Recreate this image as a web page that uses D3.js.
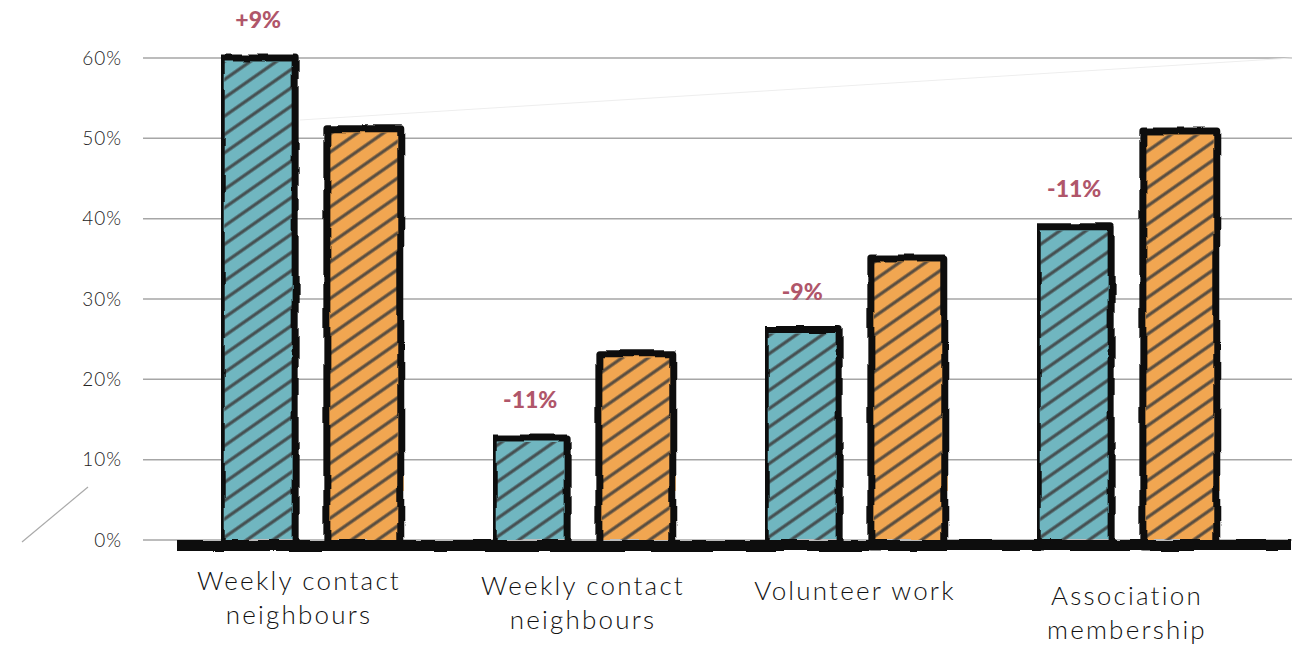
<!doctype html>
<html>
  <head>
    <meta charset="utf-8">
    <script src="https://d3js.org/d3.v7.min.js"></script>
    <style>
      body { margin: 0; background: #fff; }
      text { font-family: "Lato", "Open Sans", sans-serif; }
    </style>
  </head>

  <body onload='init()'>
    <svg class="chart" width=1292 height=652></svg>

    <script>
      // chart data
      var categories = ["Weekly contact neighbours", "Weekly contact neighbours", "Volunteer work", "Association membership"];
      var seriesNames = ["before", "after"];
      var seriesBefore = [60, 12.7, 26.2, 39.0];
      var seriesAfter = [51.2, 23.2, 35.1, 50.9];
      var changeLabels = ["+9%", "-11%", "-9%", "-11%"];
      var yTicks = [0, 10, 20, 30, 40, 50, 60];

      function init() {
        var svg = d3.select("svg"),
          width = +svg.attr("width");

        var colors = { before: "#6fb6c0", after: "#f1a651" };

        var defs = svg.append("defs");

        // hatch pattern
        var pat = defs.append("pattern")
          .attr("id", "hatch")
          .attr("patternUnits", "userSpaceOnUse")
          .attr("width", 15).attr("height", 15)
          .attr("patternTransform", "rotate(-35)");
        pat.append("line")
          .attr("x1", 0).attr("y1", 7).attr("x2", 15).attr("y2", 7)
          .attr("stroke", "#3d3d3d").attr("stroke-width", 3.2).attr("stroke-opacity", 0.85);

        // rough pen filter
        var rough = defs.append("filter").attr("id", "rough")
          .attr("filterUnits", "userSpaceOnUse")
          .attr("x", 0).attr("y", 0).attr("width", 1292).attr("height", 652);
        rough.append("feTurbulence").attr("type", "fractalNoise")
          .attr("baseFrequency", 0.03).attr("numOctaves", 2).attr("seed", 3).attr("result", "n");
        rough.append("feDisplacementMap").attr("in", "SourceGraphic").attr("in2", "n")
          .attr("scale", 5).attr("xChannelSelector", "R").attr("yChannelSelector", "G");

        var wash = defs.append("filter").attr("id", "wash")
          .attr("filterUnits", "userSpaceOnUse")
          .attr("x", 0).attr("y", 0).attr("width", 1292).attr("height", 652);
        wash.append("feTurbulence").attr("type", "fractalNoise")
          .attr("baseFrequency", 0.02).attr("numOctaves", 2).attr("seed", 7).attr("result", "n");
        wash.append("feDisplacementMap").attr("in", "SourceGraphic").attr("in2", "n")
          .attr("scale", 10).attr("xChannelSelector", "R").attr("yChannelSelector", "G");

        var y = d3.scaleLinear().domain([0, 60]).range([540, 58]);
        var x0 = d3.scaleBand().domain(d3.range(categories.length)).range([175, 1263]).paddingInner(0.34).paddingOuter(0.17);
        var x1 = d3.scaleBand().domain(seriesNames).range([0, x0.bandwidth()]).paddingInner(0.3);

        // grid lines + tick labels
        var axis = svg.append("g");
        axis.selectAll("line").data(yTicks).enter().append("line")
          .attr("x1", 143).attr("x2", width)
          .attr("y1", function(d){return y(d);})
          .attr("y2", function(d){return y(d);})
          .attr("stroke", "#a6a6a6").attr("stroke-width", 1.5);
        axis.selectAll("text").data(yTicks).enter().append("text")
          .attr("x", 122)
          .attr("y", function(d){return y(d);})
          .attr("dy", "0.35em")
          .attr("text-anchor", "end")
          .attr("font-size", 19)
          .attr("font-weight", 300)
          .attr("letter-spacing", 1)
          .attr("fill", "#222")
          .text(function(d){return d + "%";});

        // stray sketch strokes
        svg.append("line").attr("x1", 22).attr("y1", 542).attr("x2", 88).attr("y2", 487)
          .attr("stroke", "#aaa").attr("stroke-width", 1.2);
        svg.append("line").attr("x1", 300).attr("y1", 120).attr("x2", width).attr("y2", 58)
          .attr("stroke", "#eee").attr("stroke-width", 1);

        var rows = categories.map(function(c, i){
          return [{ s: "before", v: seriesBefore[i], i: i }, { s: "after", v: seriesAfter[i], i: i }];
        });

        var groups = svg.selectAll(".grp").data(rows).enter().append("g")
          .attr("class", "grp")
          .attr("transform", function(d, i){return "translate(" + x0(i) + ",0)";});

        var bars = groups.selectAll(".bar").data(function(d){return d;}).enter().append("g").attr("class", "bar");

        bars.append("rect")
          .attr("x", function(d){return x1(d.s);})
          .attr("y", function(d){return y(d.v);})
          .attr("width", x1.bandwidth())
          .attr("height", function(d){return y(0) - y(d.v);})
          .attr("fill", function(d){return colors[d.s];})
          .attr("filter", "url(#wash)");
        bars.append("rect")
          .attr("x", function(d){return x1(d.s) + 3;})
          .attr("y", function(d){return y(d.v) + 4;})
          .attr("width", x1.bandwidth() - 6)
          .attr("height", function(d){return y(0) - y(d.v) - 4;})
          .attr("fill", "url(#hatch)");
        bars.append("rect")
          .attr("x", function(d){return x1(d.s);})
          .attr("y", function(d){return y(d.v);})
          .attr("width", x1.bandwidth())
          .attr("height", function(d){return y(0) - y(d.v) + 6;})
          .attr("fill", "none")
          .attr("stroke", "#111")
          .attr("stroke-width", 7)
          .attr("stroke-linejoin", "round")
          .attr("filter", "url(#rough)");

        // change labels above first bar
        groups.append("text")
          .attr("x", x1("before") + x1.bandwidth() / 2)
          .attr("y", function(d){return y(d[0].v) - 30;})
          .attr("text-anchor", "middle")
          .attr("font-size", 23)
          .attr("font-weight", 900)
          .attr("fill", "#b0566a")
          .text(function(d, i){return changeLabels[i];});

        // baseline
        svg.append("rect")
          .attr("x", 178).attr("width", width - 178)
          .attr("y", y(0)).attr("height", 11)
          .attr("fill", "#111")
          .attr("filter", "url(#rough)");

        // category labels
        var lab = groups.append("text")
          .attr("text-anchor", "middle")
          .attr("font-size", 26)
          .attr("font-weight", 300)
          .attr("letter-spacing", 2.2)
          .attr("fill", "#111");
        lab.each(function(d, i){
          var words = categories[i].split(" ");
          var lines = words.length > 2 ? [words.slice(0, 2).join(" "), words.slice(2).join(" ")] :
            (categories[i] === "Volunteer work" ? [categories[i]] : words);
          var t = d3.select(this);
          lines.forEach(function(l, k){
            t.append("tspan")
              .attr("x", x0.bandwidth() / 2 - (i === 0 ? 12 : 0))
              .attr("y", 590 + i * 5 + k * 34)
              .text(l);
          });
        });
      }
    </script>
  </body>
</html>
